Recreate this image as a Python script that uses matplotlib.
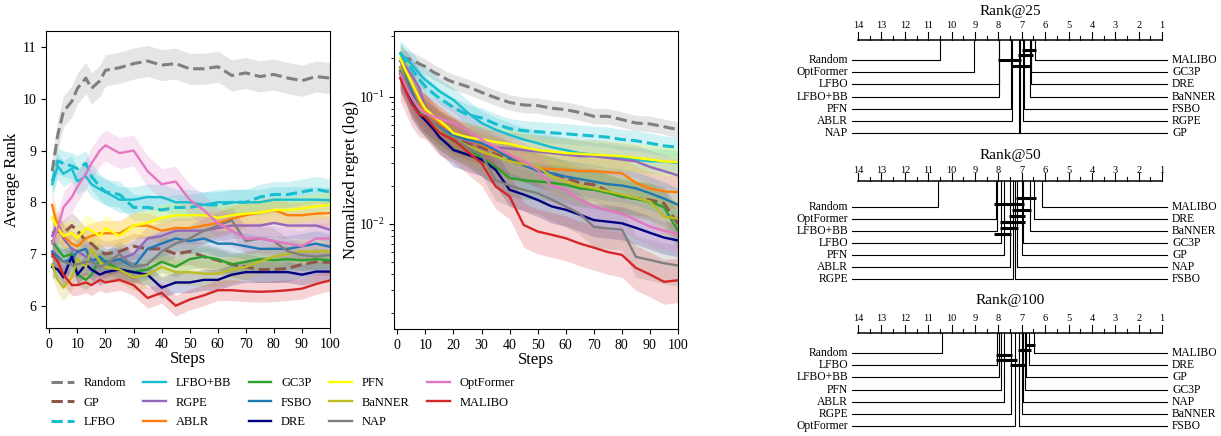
import numpy as np
import matplotlib.pyplot as plt

plt.rcParams['font.family'] = ['Liberation Serif', 'DejaVu Serif']
plt.rcParams['mathtext.fontset'] = 'stix'

# ---- data ----
steps = [1, 3, 5, 8, 10, 13, 15, 18, 20, 25, 30, 35, 40, 45, 50, 55, 60, 65, 70, 75, 80, 85, 90, 95, 100]

methods = ['Random', 'GP', 'LFBO', 'LFBO+BB', 'RGPE', 'ABLR', 'GC3P', 'FSBO',
           'DRE', 'PFN', 'BaNNER', 'NAP', 'OptFormer', 'MALIBO']

# average rank per step
rank_random = [8.6, 9.3, 9.75, 9.95, 10.2, 10.4, 10.2, 10.35, 10.55, 10.6, 10.68, 10.73, 10.65,
               10.68, 10.58, 10.58, 10.62, 10.45, 10.5, 10.43, 10.47, 10.4, 10.35, 10.43, 10.4]
rank_gp = [7.4, 7.45, 7.4, 7.55, 7.45, 7.25, 7.2, 7.05, 7.0, 7.05, 7.15, 7.1, 7.1, 7.0, 7.05,
           6.95, 6.88, 6.8, 6.75, 6.7, 6.7, 6.72, 6.8, 6.85, 6.84]
rank_lfbo = [8.4, 8.8, 8.75, 8.7, 8.65, 8.75, 8.5, 8.3, 8.2, 8.15, 7.9, 7.9, 7.85, 7.9, 7.9,
             7.95, 7.95, 8.0, 8.0, 8.1, 8.15, 8.15, 8.2, 8.25, 8.2]
rank_lfbo_bb = [8.35, 8.7, 8.55, 8.65, 8.4, 8.5, 8.35, 8.25, 8.2, 8.05, 8.05, 8.1, 8.1, 8.0, 8.0,
                7.95, 8.0, 8.0, 8.0, 8.0, 8.05, 8.05, 8.05, 8.05, 8.04]
rank_rgpe = [7.35, 7.6, 7.3, 7.1, 7.05, 6.95, 6.9, 6.85, 6.8, 6.9, 7.0, 7.3, 7.35, 7.45, 7.45,
             7.45, 7.5, 7.55, 7.55, 7.55, 7.6, 7.55, 7.55, 7.55, 7.47]
rank_ablr = [7.95, 7.5, 7.35, 7.2, 7.15, 7.3, 7.35, 7.4, 7.4, 7.4, 7.55, 7.55, 7.45, 7.5, 7.5,
             7.55, 7.6, 7.68, 7.75, 7.8, 7.85, 7.75, 7.75, 7.78, 7.79]
rank_gc3p = [7.25, 7.1, 6.95, 7.0, 6.6, 6.5, 6.6, 6.9, 6.85, 6.7, 6.65, 6.7, 6.85, 6.75, 6.9,
             6.95, 6.9, 6.8, 6.85, 6.9, 6.88, 6.9, 6.88, 6.9, 6.88]
rank_fsbo = [7.05, 6.95, 6.85, 6.9, 7.05, 7.1, 6.85, 6.95, 6.85, 6.9, 6.75, 7.1, 7.2, 7.3, 7.25,
             7.3, 7.2, 7.2, 7.15, 7.1, 7.1, 7.1, 7.15, 7.2, 7.14]
rank_dre = [6.75, 6.7, 6.55, 6.95, 6.6, 6.8, 6.7, 6.6, 6.65, 6.7, 6.65, 6.6, 6.35, 6.45, 6.45,
            6.5, 6.5, 6.6, 6.65, 6.65, 6.65, 6.65, 6.6, 6.66, 6.66]
rank_pfn = [7.7, 7.5, 7.35, 7.4, 7.3, 7.5, 7.45, 7.35, 7.5, 7.35, 7.55, 7.6, 7.7, 7.75, 7.75,
            7.75, 7.7, 7.75, 7.78, 7.8, 7.85, 7.85, 7.88, 7.92, 7.95]
rank_banner = [6.8, 6.5, 6.35, 6.55, 6.9, 6.75, 7.1, 6.85, 6.75, 6.7, 6.55, 6.6, 6.75, 6.65, 6.65,
               6.62, 6.62, 6.7, 6.75, 6.85, 6.95, 7.0, 7.05, 7.05, 7.05]
rank_nap = [6.95, 6.9, 6.85, 6.8, 6.8, 6.85, 6.85, 6.75, 6.8, 7.0, 6.75, 6.8, 7.05, 7.2, 7.3,
            7.45, 7.55, 7.65, 7.25, 7.3, 7.25, 7.05, 6.98, 6.95, 6.98]
rank_optformer = [7.2, 7.5, 7.9, 8.1, 8.3, 8.55, 8.75, 9.0, 9.1, 8.95, 9.0, 8.6, 8.35, 8.4, 8.05,
                  7.85, 7.6, 7.45, 7.3, 7.3, 7.25, 7.2, 7.15, 7.3, 7.3]
rank_malibo = [7.0, 6.85, 6.6, 6.4, 6.4, 6.45, 6.4, 6.5, 6.45, 6.5, 6.4, 6.15, 6.25, 6.0, 6.12,
               6.2, 6.3, 6.3, 6.28, 6.27, 6.28, 6.3, 6.33, 6.42, 6.49]

# normalized regret per step
regret_random = [0.2, 0.2, 0.195, 0.18, 0.172, 0.155, 0.148, 0.135, 0.13, 0.12, 0.108, 0.098, 0.09,
                 0.086, 0.085, 0.081, 0.079, 0.075, 0.07, 0.07, 0.066, 0.062, 0.061, 0.058, 0.055]
regret_gp = [0.16, 0.13, 0.1, 0.08, 0.07, 0.062, 0.057, 0.05, 0.047, 0.043, 0.04, 0.036, 0.032,
             0.029, 0.027, 0.025, 0.023, 0.021, 0.0203, 0.018, 0.0164, 0.0158, 0.0154, 0.0145, 0.010]
regret_lfbo = [0.22, 0.19, 0.165, 0.135, 0.12, 0.105, 0.097, 0.088, 0.082, 0.072, 0.068, 0.061, 0.056,
               0.054, 0.053, 0.052, 0.051, 0.05, 0.049, 0.048, 0.046, 0.045, 0.043, 0.041, 0.04]
regret_lfbo_bb = [0.22, 0.2, 0.18, 0.15, 0.135, 0.12, 0.11, 0.1, 0.094, 0.075, 0.062, 0.055, 0.05,
                  0.046, 0.043, 0.04, 0.038, 0.036, 0.035, 0.034, 0.033, 0.032, 0.031, 0.031, 0.03]
regret_rgpe = [0.19, 0.17, 0.15, 0.115, 0.08, 0.068, 0.062, 0.055, 0.05, 0.045, 0.042, 0.04, 0.039,
               0.038, 0.037, 0.036, 0.035, 0.034, 0.034, 0.033, 0.032, 0.031, 0.028, 0.026, 0.024]
regret_ablr = [0.17, 0.14, 0.11, 0.085, 0.075, 0.068, 0.062, 0.056, 0.052, 0.046, 0.042, 0.037, 0.034,
               0.03, 0.0274, 0.027, 0.0266, 0.026, 0.026, 0.0255, 0.025, 0.021, 0.019, 0.018, 0.0177]
regret_gc3p = [0.16, 0.13, 0.1, 0.078, 0.068, 0.058, 0.053, 0.048, 0.045, 0.04, 0.033, 0.028, 0.0229,
               0.022, 0.0215, 0.021, 0.0203, 0.019, 0.0185, 0.0175, 0.0164, 0.0157, 0.015, 0.0135, 0.0088]
regret_fsbo = [0.17, 0.14, 0.11, 0.08, 0.07, 0.062, 0.057, 0.052, 0.05, 0.046, 0.043, 0.038, 0.033,
               0.029, 0.026, 0.025, 0.0235, 0.0225, 0.0215, 0.0205, 0.02, 0.019, 0.0174, 0.0158, 0.0141]
regret_dre = [0.15, 0.12, 0.09, 0.072, 0.065, 0.055, 0.048, 0.042, 0.038, 0.035, 0.032, 0.0266, 0.0185,
              0.017, 0.0154, 0.0137, 0.0129, 0.0118, 0.0107, 0.0104, 0.0101, 0.0093, 0.0085, 0.0078, 0.0074]
regret_pfn = [0.2, 0.16, 0.13, 0.095, 0.08, 0.07, 0.065, 0.057, 0.0515, 0.048, 0.046, 0.044, 0.0425,
              0.04, 0.038, 0.037, 0.036, 0.0355, 0.035, 0.0345, 0.034, 0.033, 0.032, 0.031, 0.0305]
regret_banner = [0.17, 0.13, 0.1, 0.08, 0.07, 0.06, 0.055, 0.05, 0.047, 0.041, 0.037, 0.034, 0.031,
                 0.0295, 0.0282, 0.0235, 0.0215, 0.02, 0.019, 0.018, 0.017, 0.016, 0.015, 0.0114, 0.011]
regret_nap = [0.16, 0.13, 0.1, 0.08, 0.072, 0.062, 0.056, 0.05, 0.047, 0.04, 0.035, 0.022, 0.02,
              0.0185, 0.0174, 0.0155, 0.0137, 0.012, 0.0095, 0.0092, 0.009, 0.0055, 0.0052, 0.0049, 0.0047]
regret_optformer = [0.15, 0.12, 0.1, 0.08, 0.074, 0.07, 0.067, 0.064, 0.062, 0.054, 0.046, 0.04, 0.035,
                    0.031, 0.0266, 0.0197, 0.0185, 0.0154, 0.0137, 0.0128, 0.012, 0.0107, 0.0095, 0.0088, 0.0083]
regret_malibo = [0.14, 0.11, 0.088, 0.072, 0.0697, 0.058, 0.052, 0.048, 0.0457, 0.037, 0.03, 0.0197, 0.0164,
                 0.0098, 0.0087, 0.0082, 0.0077, 0.007, 0.0065, 0.006, 0.0057, 0.0045, 0.004, 0.0035, 0.0036]

# band half-widths (rank units) and band factors (regret, multiplicative)
rank_spread = [0.3, 0.25, 0.25, 0.25, 0.25, 0.25, 0.2, 0.25, 0.2, 0.25, 0.25, 0.25, 0.3, 0.2]
regret_spread = [1.15, 1.35, 1.2, 1.25, 1.35, 1.35, 1.4, 1.35, 1.35, 1.3, 1.4, 1.45, 1.4, 1.5]

# critical difference diagrams: average rank at 25 / 50 / 100 steps
cd_rank25 = {'MALIBO': 6.43, 'GC3P': 6.59, 'DRE': 6.62, 'BaNNER': 6.65, 'FSBO': 6.90, 'RGPE': 6.96,
             'GP': 7.07, 'NAP': 7.12, 'ABLR': 7.43, 'PFN': 7.45, 'LFBO+BB': 7.96, 'LFBO': 7.98,
             'OptFormer': 9.04, 'Random': 10.51}
cd_rank50 = {'MALIBO': 6.12, 'DRE': 6.46, 'BaNNER': 6.66, 'GC3P': 6.93, 'GP': 6.97, 'NAP': 7.21,
             'FSBO': 7.29, 'RGPE': 7.37, 'ABLR': 7.50, 'PFN': 7.76, 'LFBO': 7.90, 'LFBO+BB': 8.05,
             'OptFormer': 8.12, 'Random': 10.56}
cd_rank100 = {'MALIBO': 6.48, 'DRE': 6.67, 'GP': 6.80, 'GC3P': 6.86, 'NAP': 6.93, 'BaNNER': 7.00,
              'FSBO': 7.13, 'OptFormer': 7.27, 'RGPE': 7.47, 'ABLR': 7.78, 'PFN': 7.90, 'LFBO+BB': 7.97,
              'LFBO': 8.04, 'Random': 10.39}
cliques25 = [('MALIBO', 'RGPE'), ('GC3P', 'NAP'), ('GP', 'LFBO'), ('BaNNER', 'ABLR')]
cliques50 = [('DRE', 'NAP'), ('GP', 'OptFormer'), ('BaNNER', 'RGPE'), ('GC3P', 'ABLR'),
             ('GC3P', 'LFBO'), ('NAP', 'LFBO'), ('ABLR', 'OptFormer')]
cliques100 = [('MALIBO', 'GP'), ('DRE', 'FSBO'), ('RGPE', 'LFBO'), ('OptFormer', 'LFBO'), ('GC3P', 'RGPE')]

colors = ['#7f7f7f', '#8c564b', '#17becf', '#17becf', '#9467bd', '#ff7f0e', '#2ca02c', '#1f77b4',
          '#000080', '#ffff00', '#bcbd22', '#7f7f7f', '#e377c2', '#d62728']
dashed = ['Random', 'GP', 'LFBO']

avg_rank = [rank_random, rank_gp, rank_lfbo, rank_lfbo_bb, rank_rgpe, rank_ablr, rank_gc3p, rank_fsbo,
            rank_dre, rank_pfn, rank_banner, rank_nap, rank_optformer, rank_malibo]
regret = [regret_random, regret_gp, regret_lfbo, regret_lfbo_bb, regret_rgpe, regret_ablr, regret_gc3p,
          regret_fsbo, regret_dre, regret_pfn, regret_banner, regret_nap, regret_optformer, regret_malibo]

# ---- figure ----
W, H = 1221, 436
fig = plt.figure(figsize=(W / 100, H / 100), dpi=100)
ax1 = fig.add_axes([46 / W, 1 - 328 / H, 284 / W, 297 / H])
ax2 = fig.add_axes([394 / W, 1 - 329 / H, 284 / W, 298 / H])

handles = []
for i, name in enumerate(methods):
    c = colors[i]
    ls = '--' if name in dashed else '-'
    lw = 2.2 if name in dashed else 1.7
    r = np.array(avg_rank[i])
    ax1.fill_between(steps, r - rank_spread[i], r + rank_spread[i], color=c, alpha=0.2, lw=0)
    h, = ax1.plot(steps, r, color=c, ls=ls, lw=lw, label=name)
    handles.append(h)
    g = np.array(regret[i])
    ax2.fill_between(steps, g / regret_spread[i], g * regret_spread[i], color=c, alpha=0.2, lw=0)
    ax2.plot(steps, g, color=c, ls=ls, lw=lw)

ax1.set_xlim(-1.2, 100)
ax1.set_ylim(5.57, 11.31)
ax1.set_yticks([6, 7, 8, 9, 10, 11])
ax1.set_ylabel('Average Rank', fontsize=12, labelpad=2)
ax2.set_yscale('log')
ax2.set_xlim(-1.2, 100)
ax2.set_ylim(0.00149, 0.328)
ax2.set_ylabel('Normalized regret (log)', fontsize=12, labelpad=0)
for ax in (ax1, ax2):
    ax.set_xticks(range(0, 101, 10))
    ax.set_xlabel('Steps', fontsize=12, labelpad=0)
    ax.tick_params(labelsize=10)

fig.legend(handles=handles, loc='upper left', bbox_to_anchor=(40 / W, 1 - 366 / H), ncol=5,
           frameon=False, fontsize=9, handlelength=1.8, handletextpad=0.8,
           columnspacing=1.38, labelspacing=0.6)

# ---- critical difference diagrams ----
axcd = fig.add_axes([790 / W, 0, 431 / W, 1])
axcd.axis('off')
axcd.set_xlim(16.91, -1.52)
axcd.set_ylim(H, 0)

panels = [
    ('Rank@25', cd_rank25, cliques25, 12, 26, 40, 50, 5.2, 60, 12.2),
    ('Rank@50', cd_rank50, cliques50, 155, 170, 181, 198, 6.0, 207, 12.0),
    ('Rank@100', cd_rank100, cliques100, 300, 318, 333, 345, 5.0, 353, 12.2),
]
for title, ranks, cliques, ty, ly, ay, by0, bdy, ry0, rdy in panels:
    axcd.text(7.5, ty, title, ha='center', va='center', fontsize=11)
    axcd.plot([14, 1], [ay, ay], color='black', lw=1.1)
    for k in range(14, 0, -1):
        axcd.plot([k, k], [ay, ay - 8], color='black', lw=0.8)
        axcd.text(k, ly, str(k), ha='center', va='center', fontsize=7.5)
        if k > 1:
            axcd.plot([k - 0.5, k - 0.5], [ay, ay - 4], color='black', lw=0.8)
    order = sorted(ranks, key=ranks.get)
    right = order[:7]
    left = order[7:][::-1]
    for j, name in enumerate(left):
        y = ry0 + j * rdy
        axcd.plot([ranks[name], ranks[name], 14.26], [ay, y, y], color='black', lw=0.8)
        axcd.text(14.43, y, name, ha='right', va='center', fontsize=8.4)
    for j, name in enumerate(right):
        y = ry0 + j * rdy
        axcd.plot([ranks[name], ranks[name], 0.79], [ay, y, y], color='black', lw=0.8)
        axcd.text(0.57, y, name, ha='left', va='center', fontsize=8.4)
    for j, (a, b) in enumerate(cliques):
        y = by0 + j * bdy
        axcd.plot([ranks[b] + 0.05, ranks[a] - 0.05], [y, y], color='black', lw=2.2,
                  solid_capstyle='butt')

fig.savefig('out.png', dpi=100)
